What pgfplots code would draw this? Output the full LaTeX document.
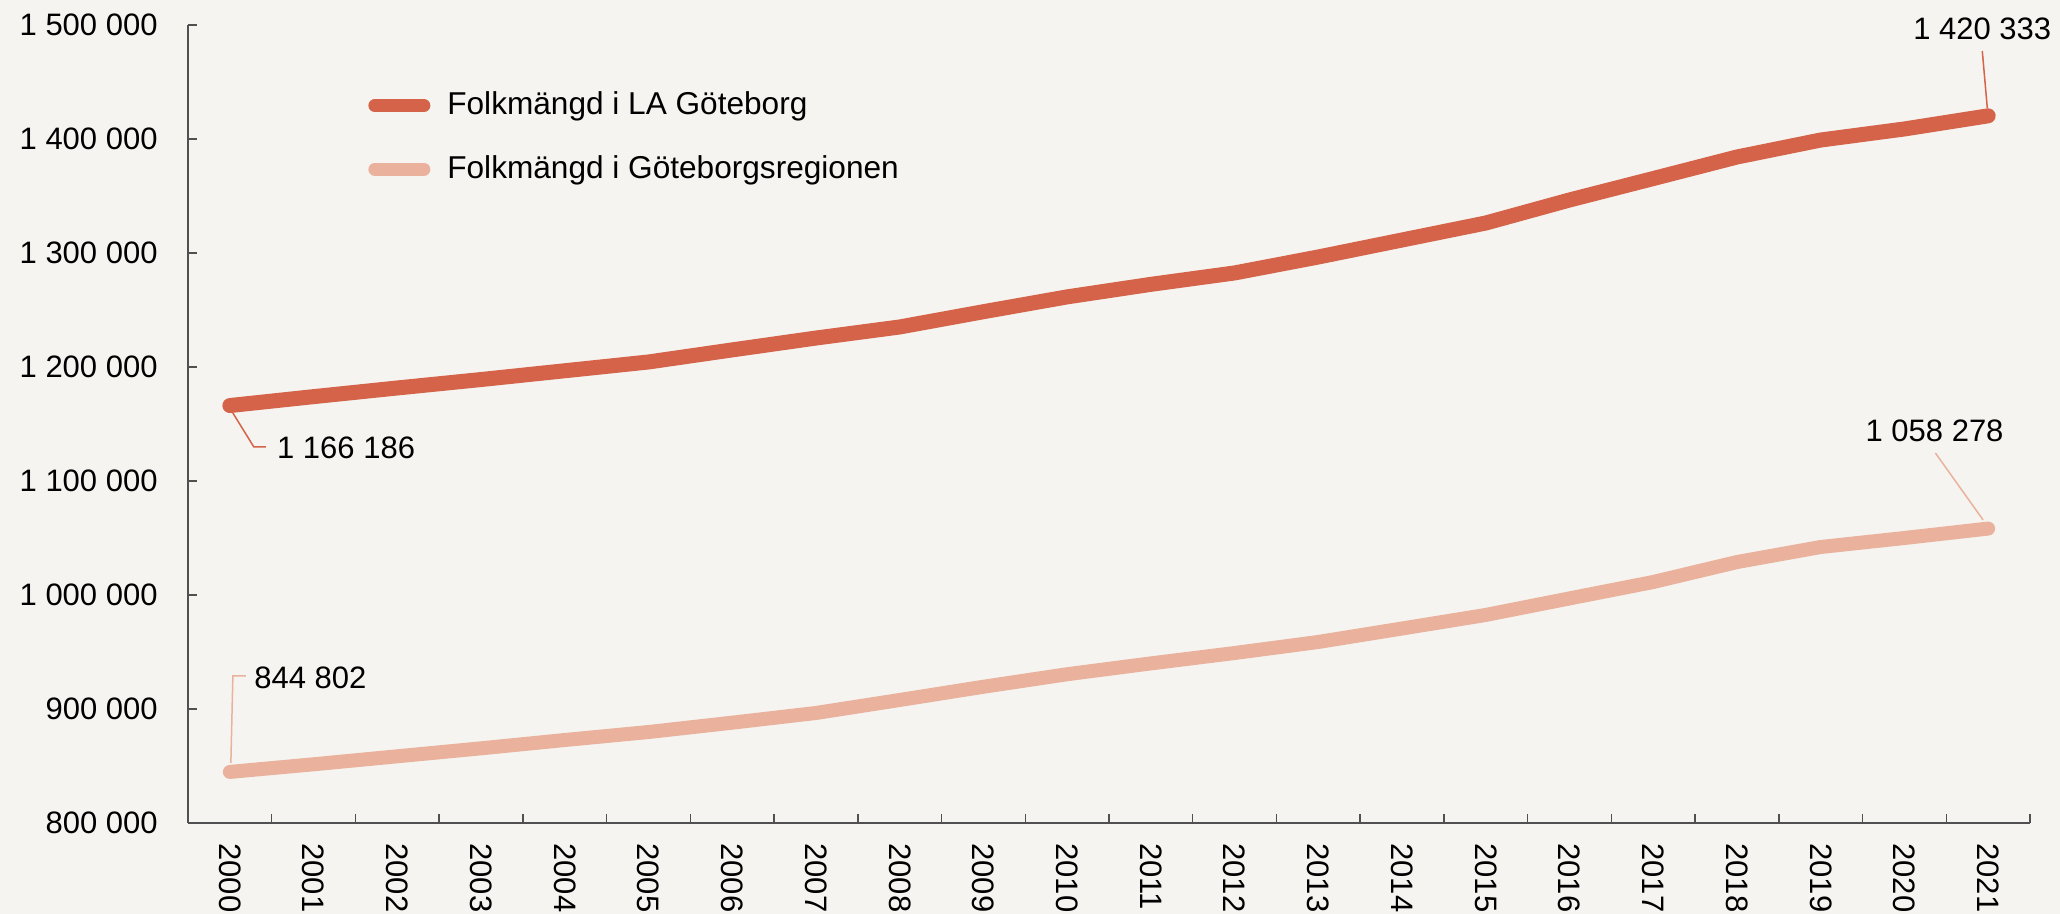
\documentclass[border=0pt]{standalone}
\usepackage{fontspec}
\setmainfont{Liberation Sans}
\usepackage{pgfplots}
\pgfplotsset{compat=1.18}
\definecolor{dark}{HTML}{D5634A}
\definecolor{light}{HTML}{EAB29D}
\definecolor{bg}{HTML}{F5F4F0}
\definecolor{axisgray}{HTML}{505050}
\begin{document}
\fontsize{15.5pt}{18.6pt}\selectfont
\begin{tikzpicture}
\fill[bg] (-94pt,-45.5pt) rectangle (936pt,411.5pt);
\begin{axis}[
  scale only axis, width=921pt, height=399pt,
  xmin=-0.5, xmax=21.5, ymin=800000, ymax=1500000,
  clip=false,
  axis x line*=bottom, axis y line*=left,
  axis line style={axisgray, line width=1pt, -},
  xtick={0,1,...,21},
  xticklabels={2000,2001,2002,2003,2004,2005,2006,2007,2008,2009,2010,2011,2012,2013,2014,2015,2016,2017,2018,2019,2020,2021},
  major x tick style={draw=none},
  minor xtick={-0.5,0.5,...,21.5},
  minor tick length=4.5pt, major tick length=4.5pt,
  every tick/.append style={axisgray, line width=0.75pt},
  ytick={800000,900000,1000000,1100000,1200000,1300000,1400000,1500000},
  yticklabels={800 000,900 000,1 000 000,1 100 000,1 200 000,1 300 000,1 400 000,1 500 000},
  scaled y ticks=false,
  yticklabel style={anchor=east, inner sep=0pt},
  yticklabel shift=15pt,
  xticklabel style={rotate=-90, anchor=west, inner sep=0pt},
  xticklabel shift=10pt,
  legend style={at={(0.0977,0.9217)}, anchor=north west, draw=none, fill=none, inner sep=0pt, row sep=14pt, cells={anchor=west}, font=\fontsize{15.8pt}{19pt}\selectfont,
    /tikz/every odd column/.append style={column sep=6.5pt}},
  legend cell align=left,
  legend image code/.code={\draw[#1, line width=6.5pt, line cap=round] (3.25pt,0pt) -- (27.75pt,0pt);},
]
\addplot[dark, line width=7.5pt, line cap=round, line join=round] coordinates {
(0,1166186) (1,1174000) (2,1181600) (3,1189000) (4,1196700) (5,1204400)
(6,1215000) (7,1225400) (8,1235100) (9,1248500) (10,1261500) (11,1272500)
(12,1282500) (13,1296500) (14,1311400) (15,1326300) (16,1346500) (17,1365300)
(18,1384200) (19,1399100) (20,1408800) (21,1420333)};
\addlegendentry{Folkmängd i LA Göteborg}
\addplot[light, line width=7pt, line cap=round, line join=round] coordinates {
(0,844802) (1,851500) (2,858500) (3,865500) (4,872800) (5,879800)
(6,888000) (7,896500) (8,907900) (9,919500) (10,930500) (11,940000)
(12,949100) (13,958800) (14,970600) (15,982500) (16,997000) (17,1011400)
(18,1028900) (19,1042100) (20,1050000) (21,1058278)};
\addlegendentry{Folkmängd i Göteborgsregionen}
\node[anchor=base, inner sep=0pt] at (axis cs:20.93,1486842) {1 420 333};
\draw[dark, line width=0.75pt] (axis cs:20.93,1477193) -- (axis cs:20.99,1427000);
\node[anchor=base west, inner sep=0pt] at (axis cs:0.56,1119298) {1 166 186};
\draw[dark, line width=0.75pt] (axis cs:0.036,1159649) -- (axis cs:0.287,1129825) -- (axis cs:0.43,1129825);
\node[anchor=base west, inner sep=0pt] at (axis cs:0.287,917544) {844 802};
\draw[light, line width=0.75pt] (axis cs:0.012,852632) -- (axis cs:0.036,928947) -- (axis cs:0.191,928947);
\node[anchor=base, inner sep=0pt] at (axis cs:20.36,1134211) {1 058 278};
\draw[light, line width=0.75pt] (axis cs:20.37,1124561) -- (axis cs:20.94,1065789);
\end{axis}
\pgfresetboundingbox
\path[use as bounding box] (-94pt,-45.5pt) rectangle (936pt,411.5pt);
\end{tikzpicture}
\end{document}
